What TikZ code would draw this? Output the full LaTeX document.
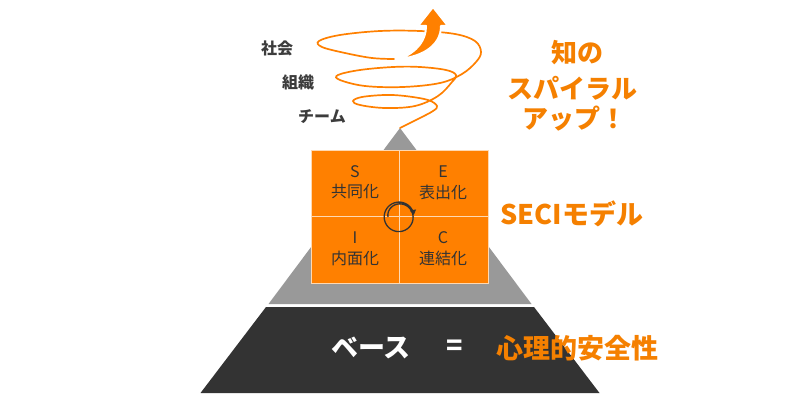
\documentclass[tikz,border=0pt]{standalone}
\usepackage{fontspec}
\newfontfamily\jp{Noto Sans CJK JP}
\usetikzlibrary{arrows.meta}
\definecolor{org}{RGB}{255,128,0}
\definecolor{orgtxt}{RGB}{245,128,0}
\definecolor{pgray}{RGB}{153,153,153}
\definecolor{pdark}{RGB}{51,51,51}
\definecolor{lbl}{RGB}{60,60,60}
\begin{document}
\begin{tikzpicture}[x=1pt,y=-1pt,
  quad/.style={fill=org, draw=white!70!org, line width=0.8pt},
  qtxt/.style={font=\jp\fontsize{16}{16}\selectfont, text=pdark, inner sep=0pt},
  lvl/.style={font=\jp\bfseries\fontsize{16}{16}\selectfont, text=lbl, inner sep=0pt},
  big/.style={font=\jp\bfseries\fontsize{26}{26}\selectfont, text=orgtxt, inner sep=0pt},
  base/.style={font=\jp\bfseries\fontsize{27}{27}\selectfont, inner sep=0pt},
  spiral/.style={draw=org, line width=1.7pt, line cap=round},
  cyc/.style={draw=pdark, line width=1.3pt, -{Triangle[length=5pt,width=6pt]}}
]
\useasboundingbox (0,0) rectangle (800,401);
\fill[white] (0,0) rectangle (800,401);

% pyramid
\fill[pgray] (400,128) -- (531.5,304) -- (268.5,304) -- cycle;
\fill[pdark] (266,307) -- (534,307) -- (599.5,393) -- (200.5,393) -- cycle;

% SECI quadrants
\path[quad] (311,150) rectangle (399.5,216.5);
\path[quad] (399.5,150) rectangle (488,216.5);
\path[quad] (311,216.5) rectangle (399.5,283);
\path[quad] (399.5,216.5) rectangle (488,283);

\node[qtxt] (s)  at (355,172) {S};
\node[qtxt] (s2) at (355,192) {共同化};
\node[qtxt] (e)  at (443,172) {E};
\node[qtxt] (e2) at (443,192) {表出化};
\node[qtxt] (i)  at (355,238) {I};
\node[qtxt] (i2) at (355,258) {内面化};
\node[qtxt] (c)  at (443,238) {C};
\node[qtxt] (c2) at (443,258) {連結化};

% cycle arrow
\draw[cyc] plot[domain=180:712, samples=90, variable=\a, smooth]
  ({399+(15-4*exp(-(\a-180)/120))*cos(\a)}, {217+(15-4*exp(-(\a-180)/120))*sin(\a)});

% spiral
\draw[spiral] plot[smooth, tension=0.6] coordinates {
 (400,128) (418,119) (433,111) (437,106) (428,100) (405,96) (385,95) (362,97)
 (353,101) (360,105) (385,108) (415,106) (438,96) (452,82) (456,75) (446,70)
 (420,67) (393,67) (360,70) (338,75) (340,80) (365,86) (403,87) (440,83)
 (462,74) (476,62) (481,52) (475,41) (455,34) (420,31) (380,31) (340,35)
 (319,41) (322,47) (345,53) (372,58) (394,59)};
\fill[org, draw=white, line width=2pt, line join=round]
  (400,59) .. controls (424,56) and (441,45) .. (441,26)
  -- (448,26) -- (433,7) -- (418,26) -- (426,26)
  .. controls (426,40) and (418,51) .. (400,59) -- cycle;

% level labels
\node[lvl] (soc) at (277,48) {社会};
\node[lvl] (org) at (298,82) {組織};
\node[lvl] (team) at (322,117) {チーム};

% right texts
\node[big] (t1) at (577,53) {知の};
\node[big] (t2) at (572,88) {スパイラル};
\node[big] (t3) at (574,119) {アップ！};
\node[big, font=\jp\bfseries\fontsize{27}{27}\selectfont] (seci) at (572,214) {SECIモデル};

% base
\node[base, text=white] (b1) at (371,348) {ベース};
\node[base, text=white] (eq) at (455,348) {=};
\node[base, text=orgtxt] (b2) at (577,348) {心理的安全性};
\end{tikzpicture}
\end{document}
